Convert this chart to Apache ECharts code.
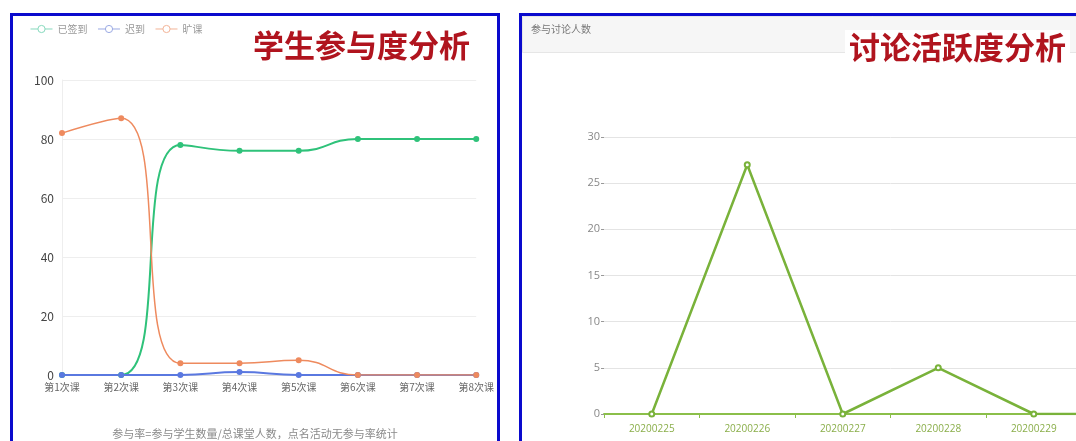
<!DOCTYPE html>
<html>
<head>
<meta charset="utf-8">
<script src="https://cdn.jsdelivr.net/npm/echarts@6/dist/echarts.min.js"></script>
<style>
  html, body { margin: 0; padding: 0; background: #fff; overflow: hidden; width: 1076px; height: 441px; }
  #left { position: absolute; left: 10px; top: 13px; width: 484px; height: 440px; border: 3px solid #0a0acd; box-sizing: content-box; }
  #right { position: absolute; left: 519px; top: 13px; width: 700px; height: 440px; border: 3px solid #0a0acd; }
</style>
</head>
<body>
<div id="left"></div>
<div id="right"></div>
<script>
// 学生参与度
var lessons = ['第1次课','第2次课','第3次课','第4次课','第5次课','第6次课','第7次课','第8次课'];
var signed = [0, 0, 78, 76, 76, 80, 80, 80];
var late = [0, 0, 0, 1, 0, 0, 0, 0];
var absent = [82, 87, 4, 4, 5, 0, 0, 0];

// 讨论人数
var days = ['20200225','20200226','20200227','20200228','20200229','20200301'];
var talkers = [0, 27, 0, 5, 0, 0];

var cjk = '"Noto Sans CJK SC", sans-serif';

function legendItem(name, color) {
    return {
        name: name,
        itemStyle: { color: '#fff', borderColor: color, borderWidth: 1 },
        lineStyle: { color: color, width: 1 }
    };
}

var leftChart = echarts.init(document.getElementById('left'));
leftChart.setOption({
    textStyle: { fontFamily: cjk },
    title: [{
        text: '学生参与度分析',
        right: 27, top: 14, padding: 0,
        textStyle: { fontSize: 31, fontWeight: 'bold', color: '#b0141e', fontFamily: cjk }
    }, {
        text: '参与率=参与学生数量/总课堂人数，点名活动无参与率统计',
        left: 'center', top: 412, padding: 0,
        textStyle: { fontSize: 11, fontWeight: 'normal', color: '#8a8a8a', fontFamily: cjk }
    }],
    legend: {
        data: [
            legendItem('已签到', '#86d9bd'),
            legendItem('迟到', '#9aa9e3'),
            legendItem('旷课', '#f2b397')
        ],
        left: 12, top: 3,
        itemWidth: 22, itemHeight: 9, itemGap: 10,
        textStyle: { fontSize: 10, color: '#999' }
    },
    grid: { left: 49, right: 19, top: 64, bottom: 81 },
    xAxis: {
        type: 'category',
        boundaryGap: false,
        data: lessons,
        axisLine: { lineStyle: { color: '#ddd' } },
        axisTick: { show: false },
        axisLabel: { fontSize: 10, color: '#666', margin: 7 }
    },
    yAxis: {
        type: 'value',
        min: 0, max: 100, interval: 20,
        axisLine: { show: true, lineStyle: { color: '#eee' } },
        axisTick: { show: false },
        axisLabel: { fontSize: 12, color: '#444', margin: 8 },
        splitLine: { lineStyle: { color: '#eee' } }
    },
    series: [{
        name: '已签到', type: 'line', smooth: true, data: signed,
        symbol: 'circle', symbolSize: 6,
        itemStyle: { color: '#2fc27a' },
        lineStyle: { width: 2, color: '#2fc27a' }
    }, {
        name: '迟到', type: 'line', smooth: true, data: late,
        symbol: 'circle', symbolSize: 6,
        itemStyle: { color: '#5a78e0' },
        lineStyle: { width: 2, color: '#5a78e0' }
    }, {
        name: '旷课', type: 'line', smooth: true, data: absent,
        symbol: 'circle', symbolSize: 6,
        itemStyle: { color: '#ee8a5e' },
        lineStyle: { width: 1.5, color: '#ee8a5e' }
    }]
});

var rightChart = echarts.init(document.getElementById('right'));
rightChart.setOption({
    textStyle: { fontFamily: cjk },
    graphic: [{
        type: 'rect', left: 0, top: 0,
        shape: { width: 700, height: 36 },
        style: { fill: '#f6f6f6', stroke: '#e6e6e6', lineWidth: 1 }
    }],
    title: [{
        text: '参与讨论人数',
        left: 9, top: 8, padding: 0,
        textStyle: { fontSize: 10, fontWeight: 'normal', color: '#777', fontFamily: cjk }
    }, {
        text: '讨论活跃度分析',
        left: 323, top: 14, padding: [2, 4],
        backgroundColor: '#fff',
        textStyle: { fontSize: 31, fontWeight: 'bold', color: '#b0141e', fontFamily: cjk }
    }],
    grid: { left: 82, right: 45, top: 121, bottom: 42 },
    xAxis: {
        type: 'category',
        boundaryGap: true,
        data: days,
        axisLine: { lineStyle: { color: '#8bbf4a', width: 2 } },
        axisTick: { show: true, length: 4, lineStyle: { color: '#8bbf4a' } },
        axisLabel: { fontSize: 10, color: '#8aae4a', margin: 10, fontFamily: '"Open Sans", sans-serif' }
    },
    yAxis: {
        type: 'value',
        min: 0, max: 30, interval: 5,
        axisLine: { show: false },
        axisTick: { show: true, length: 3, lineStyle: { color: '#999' } },
        axisLabel: { fontSize: 11, color: '#888', margin: 4, fontFamily: '"Open Sans", sans-serif' },
        splitLine: { lineStyle: { color: '#e4e4e4' } }
    },
    series: [{
        name: '参与讨论人数', type: 'line', data: talkers,
        symbol: 'emptyCircle', symbolSize: 5,
        itemStyle: { color: '#79b23a' },
        lineStyle: { width: 2.5, color: '#79b23a' }
    }]
});
</script>
</body>
</html>
